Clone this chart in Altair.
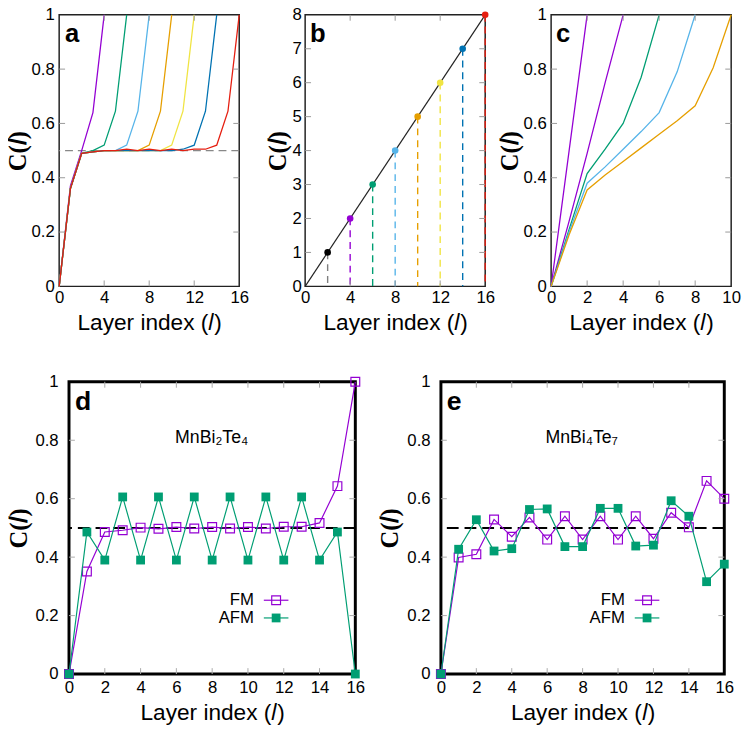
import altair as alt
import pandas as pd

FONT = "Liberation Sans"
PURPLE = "#9400D3"; GREEN = "#009E73"; SKY = "#56B4E9"; ORANGE = "#E69F00"
YELLOW = "#F0E442"; BLUE = "#0072B2"; RED = "#E51E10"; BLACK = "#000000"

# ---------------- data ----------------
panel_tags = ["a", "b", "c", "d", "e"]
x_title = "Layer index (\U0001D459)"
y_title = "C(\U0001D459)"

# panel a : C(l) for slabs of N layers
a_n4 = [0, 0.37, 0.50, 0.64, 1.0]
a_n6 = [0, 0.36, 0.49, 0.50, 0.52, 0.645, 1.0]
a_n8 = [0, 0.36, 0.49, 0.495, 0.50, 0.50, 0.52, 0.645, 1.0]
a_n10 = [0, 0.36, 0.49, 0.495, 0.50, 0.50, 0.50, 0.50, 0.52, 0.645, 1.0]
a_n12 = [0, 0.36, 0.49, 0.495, 0.50, 0.50, 0.50, 0.50, 0.50, 0.50, 0.52, 0.645, 1.0]
a_n14 = [0, 0.36, 0.49, 0.495, 0.50, 0.50, 0.50, 0.50, 0.50, 0.50, 0.50, 0.505, 0.52, 0.645, 1.0]
a_n16 = [0, 0.36, 0.49, 0.495, 0.50, 0.50, 0.505, 0.50, 0.505, 0.50, 0.505, 0.50, 0.505, 0.505, 0.52, 0.645, 1.0]
a_names = ["N4", "N6", "N8", "N10", "N12", "N14", "N16"]
a_colors = [PURPLE, GREEN, SKY, ORANGE, YELLOW, BLUE, RED]
a_half = [0.5]

# panel b
b_l = [2, 4, 6, 8, 10, 12, 14, 16]
b_c = [1, 2, 3, 4, 5, 6, 7, 8]
b_colors = [BLACK, PURPLE, GREEN, SKY, ORANGE, YELLOW, BLUE, RED]
b_rule_colors = ["#7f7f7f", PURPLE, GREEN, SKY, ORANGE, YELLOW, BLUE, RED]
b_line_l = [0, 16]
b_line_c = [0, 8]

# panel c
c_n2 = [0, 0.5, 1.0]
c_n4 = [0, 0.24, 0.49, 0.75, 1.0]
c_n6 = [0, 0.21, 0.415, 0.505, 0.60, 0.77, 1.0]
c_n8 = [0, 0.20, 0.38, 0.44, 0.505, 0.57, 0.64, 0.79, 1.0]
c_n10 = [0, 0.19, 0.355, 0.41, 0.46, 0.51, 0.56, 0.61, 0.665, 0.805, 1.0]
c_names = ["N2", "N4", "N6", "N8", "N10"]
c_colors = [BLACK, PURPLE, GREEN, SKY, ORANGE]

# panel d : MnBi2Te4
d_fm = [0, 0.351, 0.486, 0.492, 0.501, 0.497, 0.503, 0.498, 0.503, 0.498, 0.503, 0.498, 0.504, 0.504, 0.517, 0.643, 1.0]
d_afm = [0, 0.486, 0.39, 0.606, 0.39, 0.606, 0.39, 0.606, 0.39, 0.606, 0.39, 0.606, 0.39, 0.606, 0.39, 0.486, 0]
# panel e : MnBi4Te7
e_fm = [0, 0.399, 0.410, 0.529, 0.47, 0.536, 0.46, 0.54, 0.46, 0.54, 0.46, 0.54, 0.463, 0.552, 0.502, 0.661, 0.60]
e_afm = [0, 0.427, 0.528, 0.421, 0.429, 0.563, 0.565, 0.436, 0.436, 0.567, 0.567, 0.438, 0.441, 0.593, 0.54, 0.316, 0.376]
materials = ["MnBi\u2082Te\u2084", "MnBi\u2084Te\u2087"]
legend_names = ["FM", "AFM"]
layers16 = list(range(17))


# ---------------- helpers ----------------
def xaxis(vals, lpad, tpad):
    return alt.Axis(values=vals, labelExpr="datum.value + ''", title=x_title, labelFont=FONT, labelFontSize=17,
                    labelColor="black", labelPadding=lpad, labelFlush=False, labelOverlap=False,
                    titleFont=FONT, titleFontSize=23, titleFontWeight="normal", titleColor="black",
                    titlePadding=tpad, ticks=False, domain=False, grid=False)


def yaxis(vals, lpad, tpad):
    return alt.Axis(values=vals, labelExpr="datum.value + ''", title=y_title, labelFont=FONT, labelFontSize=17,
                    labelColor="black", labelPadding=lpad, labelFlush=False, labelOverlap=False,
                    titleFont="Liberation Serif", titleFontSize=25, titleFontWeight="bold",
                    titleColor="black", titlePadding=tpad, ticks=False, domain=False, grid=False)


def inner_ticks(X, Y, xvals, yvals, W, H, color="#999999", L=6):
    xt = pd.DataFrame({"x": xvals})
    yt = pd.DataFrame({"y": yvals})
    return [
        alt.Chart(xt).mark_rule(color=color, strokeWidth=1).encode(x=X, y=alt.value(H), y2=alt.value(H - L)),
        alt.Chart(xt).mark_rule(color=color, strokeWidth=1).encode(x=X, y=alt.value(0), y2=alt.value(L)),
        alt.Chart(yt).mark_rule(color=color, strokeWidth=1).encode(y=Y, x=alt.value(0), x2=alt.value(L)),
        alt.Chart(yt).mark_rule(color=color, strokeWidth=1).encode(y=Y, x=alt.value(W), x2=alt.value(W - L)),
    ]


def tag(letter, dx, dy, size=26):
    return alt.Chart(pd.DataFrame({"t": [letter]})).mark_text(
        font=FONT, fontSize=size, fontWeight="bold", align="left", baseline="alphabetic", color="black"
    ).encode(text="t:N", x=alt.value(dx), y=alt.value(dy))


def long_df(names, series):
    rows = []
    for n, vals in zip(names, series):
        for i, v in enumerate(vals):
            rows.append({"x": i, "y": v, "s": n})
    return pd.DataFrame(rows)


TW, TH = 183, 276
BW_D, BW_E, BH = 291, 288, 297
top_frame = alt.ViewBackground(stroke="#222222", strokeWidth=1.5)
bot_frame = alt.ViewBackground(stroke="black", strokeWidth=3)

# ---------------- panel a ----------------
Xa = alt.X("x:Q", scale=alt.Scale(domain=[0, 16], nice=False), axis=xaxis([0, 4, 8, 12, 16], 3, 7))
Ya = alt.Y("y:Q", scale=alt.Scale(domain=[0, 1], nice=False), axis=yaxis([0, 0.2, 0.4, 0.6, 0.8, 1], 5, 1))
df_a = long_df(a_names, [a_n4, a_n6, a_n8, a_n10, a_n12, a_n14, a_n16])
pa = alt.layer(
    alt.Chart(pd.DataFrame({"y": a_half})).mark_rule(color="#888888", strokeWidth=1.3, strokeDash=[8, 5]).encode(y=Ya),
    alt.Chart(df_a).mark_line(strokeWidth=1.3).encode(
        x=Xa, y=Ya, color=alt.Color("s:N", scale=alt.Scale(domain=a_names, range=a_colors), legend=None)),
    *inner_ticks(Xa, Ya, [4, 8, 12], [0.2, 0.4, 0.6, 0.8], TW, TH),
    tag(panel_tags[0], 6, 28),
).properties(width=TW, height=TH, view=top_frame)

# ---------------- panel b ----------------
Xb = alt.X("x:Q", scale=alt.Scale(domain=[0, 16], nice=False), axis=xaxis([0, 4, 8, 12, 16], 3, 7))
Yb = alt.Y("y:Q", scale=alt.Scale(domain=[0, 8], nice=False), axis=yaxis(list(range(9)), 4, 1))
df_b = pd.DataFrame({"x": b_l, "y": b_c, "k": [str(v) for v in b_l]})
keys_b = [str(v) for v in b_l]
pb = alt.layer(
    alt.Chart(pd.DataFrame({"x": b_line_l, "y": b_line_c})).mark_line(color="#222222", strokeWidth=1.2).encode(x=Xb, y=Yb),
    alt.Chart(df_b).mark_rule(strokeWidth=1.4, strokeDash=[7, 5]).encode(
        x=Xb, y=Yb, y2=alt.datum(0),
        color=alt.Color("k:N", scale=alt.Scale(domain=keys_b, range=b_rule_colors), legend=None)),
    alt.Chart(df_b).mark_circle(size=45, opacity=1).encode(
        x=Xb, y=Yb, color=alt.Color("k:N", scale=alt.Scale(domain=keys_b, range=b_colors), legend=None)),
    *inner_ticks(Xb, Yb, [4, 8, 12], [1, 2, 3, 4, 5, 6, 7], TW, TH),
    tag(panel_tags[1], 5, 28),
).resolve_scale(color="independent").properties(width=TW, height=TH, view=top_frame)

# ---------------- panel c ----------------
Xc = alt.X("x:Q", scale=alt.Scale(domain=[0, 10], nice=False), axis=xaxis([0, 2, 4, 6, 8, 10], 3, 7))
Yc = alt.Y("y:Q", scale=alt.Scale(domain=[0, 1], nice=False), axis=yaxis([0, 0.2, 0.4, 0.6, 0.8, 1], 5, 1))
df_c = long_df(c_names, [c_n2, c_n4, c_n6, c_n8, c_n10])
pc = alt.layer(
    alt.Chart(df_c).mark_line(strokeWidth=1.3).encode(
        x=Xc, y=Yc, color=alt.Color("s:N", scale=alt.Scale(domain=c_names, range=c_colors), legend=None)),
    *inner_ticks(Xc, Yc, [2, 4, 6, 8], [0.2, 0.4, 0.6, 0.8], TW, TH),
    tag(panel_tags[2], 5, 28),
).properties(width=TW, height=TH, view=top_frame)


# ---------------- panels d / e ----------------
def bottom_panel(fm, afm, letter, material, W, leg_x, mat_x):
    X = alt.X("x:Q", scale=alt.Scale(domain=[0, 16], nice=False), axis=xaxis(list(range(0, 17, 2)), 6, 6))
    Y = alt.Y("y:Q", scale=alt.Scale(domain=[0, 1], nice=False), axis=yaxis([0, 0.2, 0.4, 0.6, 0.8, 1], 11, 4))
    dfm = pd.DataFrame({"x": layers16, "y": fm})
    dafm = pd.DataFrame({"x": layers16, "y": afm})
    one = pd.DataFrame({"t": [0]})
    layers = [
        alt.Chart(pd.DataFrame({"y": a_half})).mark_rule(color="black", strokeWidth=2, strokeDash=[12, 6]).encode(y=Y),
        alt.Chart(dfm).mark_line(color=PURPLE, strokeWidth=1.2).encode(x=X, y=Y),
        alt.Chart(dfm).mark_point(shape="square", filled=False, color=PURPLE, size=80, strokeWidth=1.2, opacity=1).encode(x=X, y=Y),
        alt.Chart(dafm).mark_line(color=GREEN, strokeWidth=1.2).encode(x=X, y=Y),
        alt.Chart(dafm).mark_point(shape="square", filled=True, color=GREEN, size=80, opacity=1).encode(x=X, y=Y),
        *inner_ticks(X, Y, list(range(2, 16, 2)), [0.2, 0.4, 0.6, 0.8], W, BH, color="#aaaaaa"),
        tag(letter, 6, 29, 27),
        alt.Chart(pd.DataFrame({"t": [material]})).mark_text(font=FONT, fontSize=18, align="center",
                                                              baseline="alphabetic", color="black").encode(
            text="t:N", x=alt.value(mat_x), y=alt.value(62)),
    ]
    # legend
    for i, (name, col, filled) in enumerate([(legend_names[0], PURPLE, False), (legend_names[1], GREEN, True)]):
        yy = 222 + 18 * i
        layers.append(alt.Chart(pd.DataFrame({"t": [name]})).mark_text(
            font=FONT, fontSize=17, align="right", baseline="middle", color="black").encode(
            text="t:N", x=alt.value(leg_x), y=alt.value(yy)))
        layers.append(alt.Chart(one).mark_rule(color=col, strokeWidth=1.2).encode(
            x=alt.value(leg_x + 10), x2=alt.value(leg_x + 35), y=alt.value(yy)))
        layers.append(alt.Chart(one).mark_point(shape="square", filled=filled, color=col, size=80,
                                                strokeWidth=1.2, opacity=1).encode(
            x=alt.value(leg_x + 22.5), y=alt.value(yy)))
    return alt.layer(*layers).properties(width=W, height=BH, view=bot_frame)


pd_ = bottom_panel(d_fm, d_afm, panel_tags[3], materials[0], BW_D, 188, 145)
pe_ = bottom_panel(e_fm, e_afm, panel_tags[4], materials[1], BW_E, 187, 143)

spacer = alt.Chart(pd.DataFrame({"t": [0]})).mark_point(opacity=0).encode(
    x=alt.value(0), y=alt.value(0)).properties(width=10, height=10,
                                              view=alt.ViewBackground(stroke="transparent"))

top = alt.hconcat(pa, pb, pc, spacing=67, bounds="flush")
bottom = alt.hconcat(spacer, alt.hconcat(pd_, pe_, spacing=87, bounds="flush"), spacing=0, bounds="flush")
chart = alt.vconcat(top, bottom, spacing=36).properties(
    padding={"left": -4, "top": -9, "right": 0, "bottom": 0}
).configure(background="white")

chart.save("out.html", embed_options={"renderer": "svg", "actions": False})
